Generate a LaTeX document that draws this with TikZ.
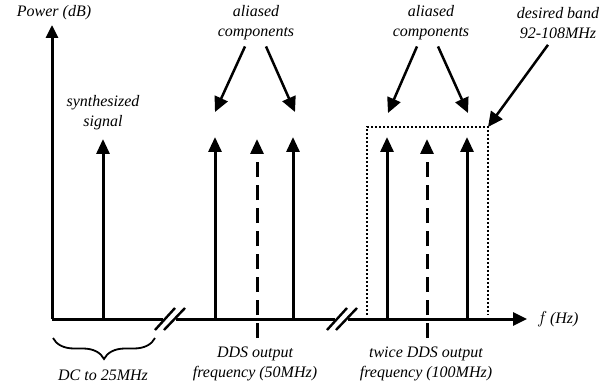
\documentclass[tikz,border=0pt]{standalone}
\usepackage{fontspec}
\setmainfont{Liberation Serif}
\usetikzlibrary{arrows.meta}
\usetikzlibrary{decorations.pathreplacing}

\tikzset{
  axis/.style={line width=3pt},
  spike/.style={line width=3pt, -{Triangle[length=15pt,width=13pt]}},
  ghost/.style={spike, dash pattern=on 15pt off 8pt},
  pointer/.style={line width=2.5pt, -{Triangle[length=15pt,width=14pt]}},
  lbl/.style={font=\fontsize{16}{20}\selectfont\itshape, align=center, inner sep=0pt},
  slash/.style={line width=2.4pt},
  band/.style={line width=2pt, dash pattern=on 2pt off 2pt}
}

\begin{document}
\begin{tikzpicture}[x=1pt,y=-1pt]
    \useasboundingbox (0,0) rectangle (613,385);

    % axes
    \coordinate (O) at (52,319);
    \coordinate (Ytip) at (52,25);
    \coordinate (Xtip) at (527,319);
    \coordinate (brkA1) at (163,319);
    \coordinate (brkA2) at (176,319);
    \coordinate (brkB1) at (335,319);
    \coordinate (brkB2) at (348,319);
    \draw[axis, -{Triangle[length=13pt,width=12pt]}] (O) -- (Ytip);
    \draw[axis] (O) -- (brkA1);
    \draw[axis] (brkA2) -- (brkB1);
    \draw[axis, -{Triangle[length=14pt,width=13pt]}] (brkB2) -- (Xtip);

    % axis breaks
    \draw[slash] (155,330) -- (175,308);
    \draw[slash] (164,330) -- (185,308);
    \draw[slash] (327,330) -- (347,308);
    \draw[slash] (336,330) -- (357,308);

    % spectral lines
    \coordinate (s1b) at (103,319);  \coordinate (s1t) at (103,139);
    \coordinate (s2b) at (215,319);  \coordinate (s2t) at (215,137);
    \coordinate (s3b) at (257,338);  \coordinate (s3t) at (257,139);
    \coordinate (s4b) at (293,319);  \coordinate (s4t) at (293,137);
    \coordinate (s5b) at (387,319);  \coordinate (s5t) at (387,137);
    \coordinate (s6b) at (427,338);  \coordinate (s6t) at (427,139);
    \coordinate (s7b) at (467,319);  \coordinate (s7t) at (467,137);
    \draw[spike] (s1b) -- (s1t);
    \draw[spike] (s2b) -- (s2t);
    \draw[ghost] (s3b) -- (s3t);
    \draw[spike] (s4b) -- (s4t);
    \draw[spike] (s5b) -- (s5t);
    \draw[ghost] (s6b) -- (s6t);
    \draw[spike] (s7b) -- (s7t);

    % desired band
    \coordinate (bandSW) at (367,315);
    \coordinate (bandNW) at (367,127);
    \coordinate (bandNE) at (488,127);
    \coordinate (bandSE) at (488,315);
    \draw[band] (bandSW) -- (bandNW) -- (bandNE) -- (bandSE);

    % labels
    \node[lbl] (power) at (54,13) {Power (dB)};
    \node[lbl] (synth) at (103,113) {synthesized\\signal};
    \node[lbl] (alias1) at (256,23) {aliased\\components};
    \node[lbl] (alias2) at (431,23) {aliased\\components};
    \node[lbl] (desired) at (558,23) {desired band\\92-108MHz};
    \node[lbl, anchor=west] (fhz) at (537,319) {$f$\,(Hz)};
    \node[lbl] (dc) at (103,375) {DC to 25MHz};
    \node[lbl] (dds) at (255,364) {DDS output\\frequency (50MHz)};
    \node[lbl] (twice) at (426,364) {twice DDS output\\frequency (100MHz)};

    % pointers
    \coordinate (a1) at (215,112);
    \coordinate (a2) at (295,112);
    \coordinate (a3) at (388,113);
    \coordinate (a4) at (468,113);
    \draw[pointer] ([xshift=-11pt,yshift=-6pt]alias1.south) -- (a1);
    \draw[pointer] ([xshift=10pt,yshift=-6pt]alias1.south) -- (a2);
    \draw[pointer] ([xshift=-14pt,yshift=-6pt]alias2.south) -- (a3);
    \draw[pointer] ([xshift=7pt,yshift=-6pt]alias2.south) -- (a4);
    \draw[pointer] ([xshift=-10pt,yshift=-6pt]desired.south) -- (bandNE);

    % brace under the band DC-25MHz
    \coordinate (brL) at (53,338);
    \coordinate (brR) at (155,338);
    \draw[line width=1.8pt, decorate, decoration={brace,mirror,amplitude=21pt}] (brL) -- (brR);
\end{tikzpicture}
\end{document}
